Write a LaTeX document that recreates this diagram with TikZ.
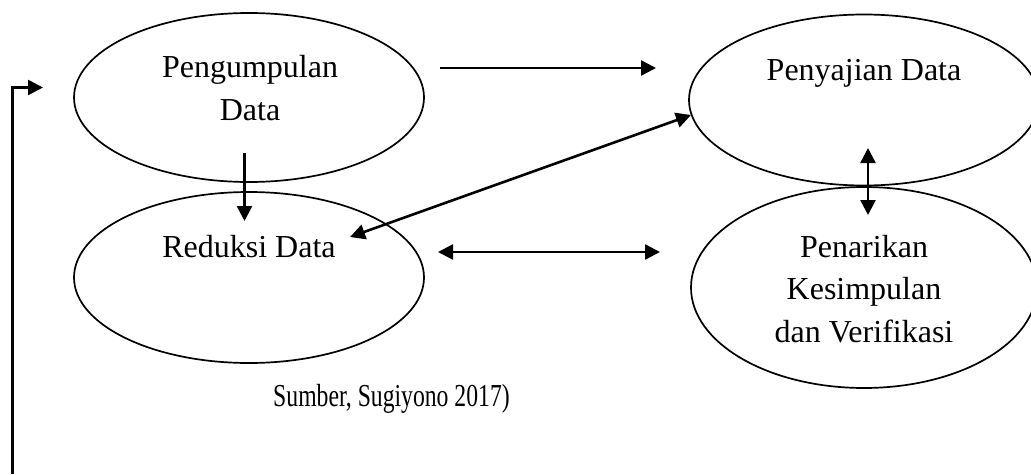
\documentclass[tikz,border=0pt]{standalone}
\usepackage{fontspec}
\setmainfont{Liberation Serif}
\usetikzlibrary{shapes.geometric,arrows.meta}
\begin{document}
\begin{tikzpicture}[x=1pt,y=-1pt,
  oval/.style={draw, ellipse, line width=1.7pt, inner sep=0pt, outer sep=0pt},
  lbl/.style={anchor=base, inner sep=0pt, font=\fontsize{32}{38}\selectfont},
  conn/.style={line width=2.6pt, -{Triangle[length=15pt,width=15pt]}},
  dconn/.style={line width=2.6pt, {Triangle[length=15pt,width=15pt]}-{Triangle[length=15pt,width=15pt]}}]
\useasboundingbox[fill=white] (0,0) rectangle (1031,474);
% ellipses
\node[oval, minimum width=350pt, minimum height=169pt] (kump) at (249,97.5) {};
\node[oval, minimum width=350pt, minimum height=171pt] (red) at (249,277.5) {};
\node[oval, minimum width=350pt, minimum height=171pt] (saji) at (864,100) {};
\node[oval, minimum width=346pt, minimum height=201pt] (tarik) at (864,287.5) {};
% texts
\node[lbl] (t1a) at (250,77) {Pengumpulan};
\node[lbl] (t1b) at (250,120) {Data};
\node[lbl] (t2) at (249,257) {Reduksi Data};
\node[lbl] (t3) at (864,80) {Penyajian Data};
\node[lbl] (t4a) at (864,257) {Penarikan};
\node[lbl] (t4b) at (864,299) {Kesimpulan};
\node[lbl] (t4c) at (864,342) {dan Verifikasi};
\node[lbl, xscale=0.74] (src) at (391.5,406) {Sumber, Sugiyono 2017)};
% connector endpoints
\coordinate (fb) at (12.5,474);
\coordinate (fe) at (43,87.5);
\coordinate (h1a) at (440,68);
\coordinate (h1b) at (656,68);
\coordinate (d1a) at (244.5,153);
\coordinate (d1b) at (244.5,221);
\coordinate (g1a) at (350,237);
\coordinate (g1b) at (691,115);
\coordinate (h2a) at (438,252);
\coordinate (h2b) at (660,252);
\coordinate (v1a) at (868,148);
\coordinate (v1b) at (868,215);
% connectors
\draw[conn] (fb) |- (fe);
\draw[conn] (h1a) -- (h1b);
\draw[conn] (d1a) -- (d1b);
\draw[dconn] (g1a) -- (g1b);
\draw[dconn] (h2a) -- (h2b);
\draw[dconn] (v1a) -- (v1b);
\end{tikzpicture}
\end{document}
